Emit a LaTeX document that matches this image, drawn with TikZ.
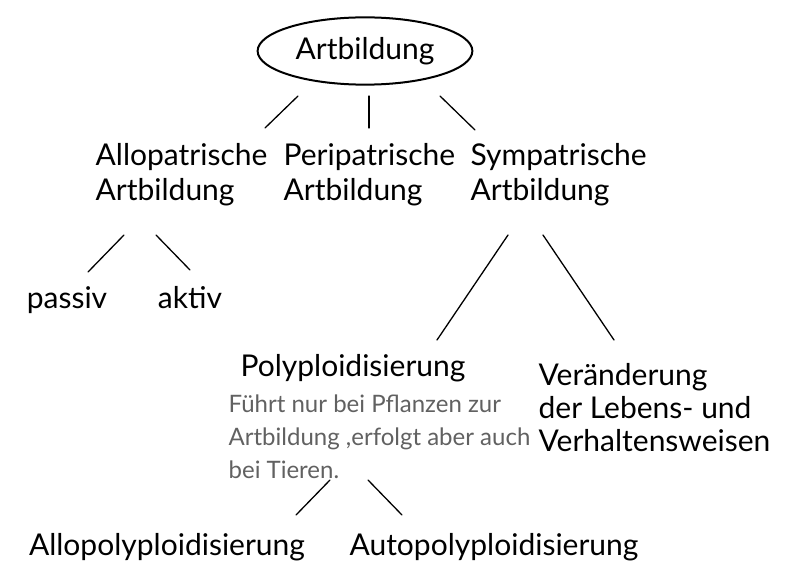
\documentclass[tikz,border=0pt]{standalone}
\usepackage{fontspec}
\setmainfont{Lato}
\usetikzlibrary{shapes.geometric}
\tikzset{
  begriff/.style={inner sep=0pt,align=left,font=\fontsize{30}{35}\selectfont},
  notiz/.style={inner sep=0pt,align=left,text=black!62,font=\fontsize{24}{33}\selectfont},
  ast/.style={line width=1.3pt,line cap=round}
}
\begin{document}
\begin{tikzpicture}[x=1pt,y=-1pt,line width=1.3pt]
\path[use as bounding box] (0,0) rectangle (800,583);
% Oberbegriff
\node[begriff,draw,ellipse,line width=2pt,inner xsep=6.5pt,inner ysep=10pt] (root) at (365,51) {Artbildung};
% drei Formen
\node[begriff,anchor=west] (allo) at (95,175) {Allopatrische\\Artbildung};
\node[begriff,anchor=west] (peri) at (283,175) {Peripatrische\\Artbildung};
\node[begriff,anchor=west] (sym) at (470,175) {Sympatrische\\Artbildung};
\node[begriff,anchor=base] (passiv) at (67,308) {passiv};
\node[begriff,anchor=base] (aktiv) at (190,308) {aktiv};
\node[begriff,anchor=base] (poly) at (353,376) {Polyploidisierung};
\node[begriff,anchor=west,font=\fontsize{30}{33}\selectfont] (verh) at (538,408) {Veränderung\\der Lebens- und\\Verhaltensweisen};
\node[notiz,anchor=west] (hinweis) at (228,437) {Führt nur bei Pflanzen zur\\Artbildung ,erfolgt aber auch\\bei Tieren.};
\node[begriff,anchor=base] (allopoly) at (167,555) {Allopolyploidisierung};
\node[begriff,anchor=base] (autopoly) at (494,555) {Autopolyploidisierung};
% Verbindungen
\draw[ast] ([shift={(-67,45)}]root.center) -- ([shift={(170,-47)}]allo.west);
\draw[ast] ([shift={(4,45)}]root.center) -- ([shift={(86,-47)}]peri.west);
\draw[ast] ([shift={(75,45)}]root.center) -- ([shift={(5,-45)}]sym.west);
\draw[ast] ([shift={(29,60)}]allo.west) -- ([shift={(21,-36)}]passiv.base);
\draw[ast] ([shift={(61,60)}]allo.west) -- ([shift={(0,-38)}]aktiv.base);
\draw[ast] ([shift={(38,60)}]sym.west) -- ([shift={(84,-36)}]poly.base);
\draw[ast] ([shift={(73,60)}]sym.west) -- ([shift={(76,-68)}]verh.west);
\draw[ast] ([shift={(-23,104)}]poly.base) -- ([shift={(129,-40)}]allopoly.base);
\draw[ast] ([shift={(15,104)}]poly.base) -- ([shift={(-92,-40)}]autopoly.base);
\end{tikzpicture}
\end{document}
